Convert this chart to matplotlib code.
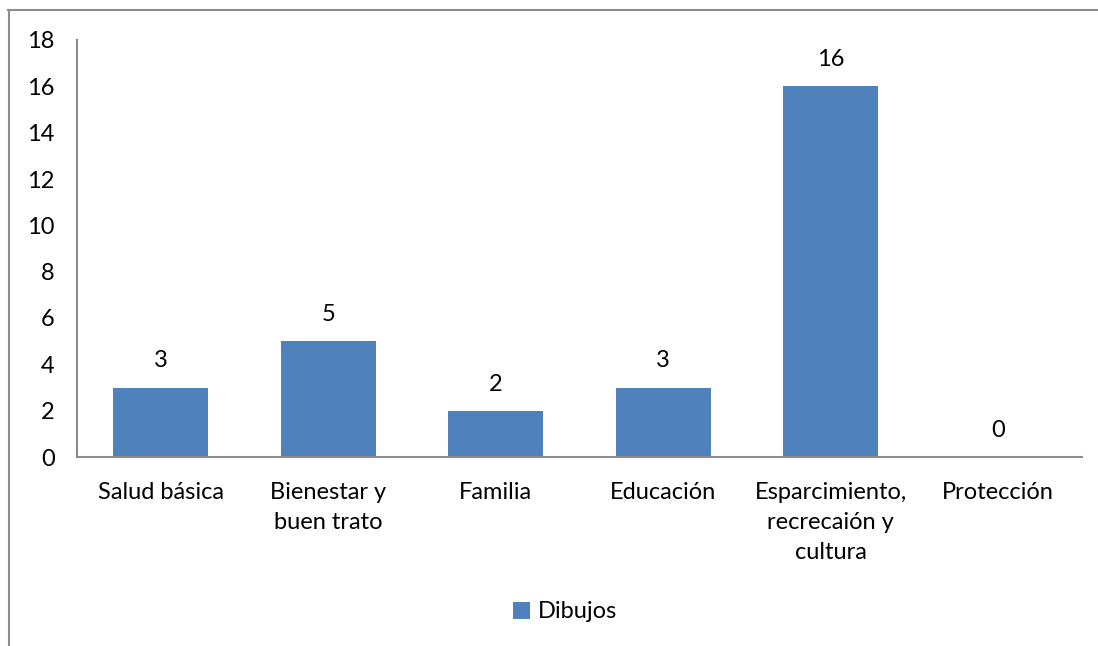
import matplotlib.pyplot as plt
from matplotlib.lines import Line2D

plt.rcParams['font.family'] = ['Lato', 'DejaVu Sans']

categorias = ['Salud básica', 'Bienestar y\nbuen trato', 'Familia', 'Educación',
              'Esparcimiento,\nrecrecaión y\ncultura', 'Protección']
valores = [3, 5, 2, 3, 16, 0]
serie = 'Dibujos'
yticks = [0, 2, 4, 6, 8, 10, 12, 14, 16, 18]

FS = 17
W, H = 1098, 646
fig = plt.figure(figsize=(W / 100, H / 100), dpi=100)
ax = fig.add_axes([77 / W, 1 - 457 / H, (1082 - 77) / W, (457 - 40) / H])

x = range(len(categorias))
bars = ax.bar(x, valores, width=0.567, color='#4F81BD', label=serie)
for xi, v in zip(x, valores):
    ax.text(xi, v + 1.15, str(v), ha='center', va='center', fontsize=FS, color='black')

ax.set_xlim(-0.5, len(categorias) - 0.5)
ax.set_ylim(0, 18)
ax.set_yticks(yticks)
ax.set_xticks(list(x))
ax.set_xticklabels(categorias, fontsize=FS, linespacing=1.52, va='top')
ax.tick_params(axis='both', length=0, labelsize=FS)
ax.tick_params(axis='x', pad=18)
ax.tick_params(axis='y', pad=16)
for lbl in ax.get_yticklabels():
    lbl.set_horizontalalignment('right')

for s in ['top', 'right']:
    ax.spines[s].set_visible(False)
for s in ['left', 'bottom']:
    ax.spines[s].set_color('#8c8c8c')
    ax.spines[s].set_linewidth(1.5)

fig.legend(handles=[bars], labels=[serie], loc='center', bbox_to_anchor=(565 / W, 1 - 612 / H),
           frameon=False, fontsize=FS, handlelength=0.7, handleheight=0.7, handletextpad=0.35)

# marco exterior
fig.add_artist(Line2D([8 / W, 1], [1 - 9.5 / H, 1 - 9.5 / H], color='#8c8c8c', lw=1.5,
                      transform=fig.transFigure))
fig.add_artist(Line2D([8.5 / W, 8.5 / W], [0, 1 - 9.5 / H], color='#8c8c8c', lw=1.5,
                      transform=fig.transFigure))

fig.savefig('out.png', dpi=100)
